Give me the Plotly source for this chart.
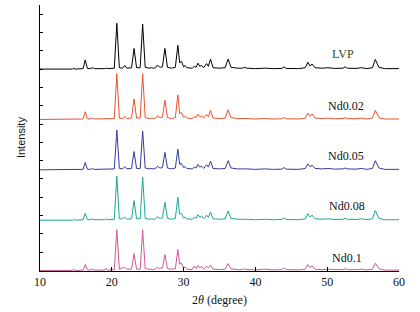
import plotly.graph_objects as go

# 2-theta sample points (degree)
two_theta = [
    10, 12, 14.5, 14.7, 14.9, 16.0, 16.3, 16.6, 17.0, 17.3,
    17.6, 19.0, 19.2, 19.4, 20.35, 20.7, 21.05, 21.5, 21.8, 22.1,
    22.75, 23.1, 23.45, 23.95, 24.3, 24.65, 25.2, 25.5, 25.8, 26.1,
    26.35, 26.6, 26.8, 27.05, 27.4, 27.75, 28.3, 28.85, 29.2, 29.45,
    29.7, 30.0, 30.2, 30.45, 31.2, 31.5, 31.75, 32.0, 32.25, 32.5,
    32.8, 33.2, 33.45, 33.75, 34.1, 35.0, 35.8, 36.2, 36.6, 37.5,
    38.2, 38.5, 38.8, 40.0, 41.3, 42.5, 43.7, 44.0, 44.3, 46.0,
    46.95, 47.3, 47.6, 47.9, 48.3, 49.3, 50.1, 51.0, 52.2, 52.5,
    52.8, 54.0, 54.8, 55.5, 56.3, 56.7, 57.2, 58.0, 59.0, 60.0,
]

lvp = [
    0, 0.5, 0, 2, 0, 1, 20, 1.5, 1, 3,
    1, 1, 2, 1, 2, 100, 3, 2, 8, 2,
    3, 45, 3, 3, 98, 4, 2, 3, 2, 3,
    9, 5, 4, 5, 45, 4, 2, 4, 52, 14,
    17, 5, 8, 3, 2, 6, 4, 13, 6, 8,
    3, 12, 6, 22, 3, 2, 3, 22, 4, 2,
    2, 4, 2, 1, 2, 1, 1.5, 5, 1.5, 1,
    3, 15, 7, 11, 3, 2, 3, 1.5, 2, 5,
    2, 1.5, 3, 1, 3, 21, 4, 1, 1, 1,
]
nd002 = [
    0, 0.5, 0, 1.5, 0, 1, 17, 1.5, 1, 2.5,
    1, 1, 2, 1, 2, 100, 3, 2, 7, 2,
    3, 45, 3, 3, 100, 4, 2, 3, 2, 3,
    8, 5, 4, 5, 42, 4, 2, 4, 54, 13,
    15, 5, 7, 3, 2, 6, 4, 12, 6, 8,
    3, 11, 6, 20, 3, 2, 3, 21, 4, 2,
    2, 3.5, 2, 1, 2, 1, 1.5, 5, 1.5, 1,
    3, 14, 7, 12, 3, 2, 3, 1.5, 2, 4,
    2, 1.5, 3, 1, 3, 20, 4, 1, 1, 1,
]
nd005 = [
    0, 0.5, 0, 1.5, 0, 1, 16, 1.5, 1, 2.5,
    1, 1, 2, 1, 2, 87, 3, 2, 7, 2,
    3, 40, 3, 3, 85, 4, 2, 3, 2, 3,
    8, 5, 4, 5, 38, 4, 2, 4, 45, 12,
    14, 5, 7, 3, 2, 6, 4, 12, 6, 8,
    3, 11, 6, 19, 3, 2, 3, 20, 4, 2,
    2, 3.5, 2, 1, 2, 1, 1.5, 5, 1.5, 1,
    3, 13, 7, 10, 3, 2, 3, 1.5, 2, 4,
    2, 1.5, 3, 1, 3, 20, 4, 1, 1, 1,
]
nd008 = [
    0, 0.5, 0, 2, 0, 1, 15, 1.5, 1, 2.5,
    1, 1, 3, 1, 2, 96, 3, 3, 7, 2,
    3, 43, 3, 3, 94, 4, 2, 3, 2, 3,
    8, 5, 4, 5, 39, 4, 2, 4, 50, 13,
    15, 5, 7, 3, 2, 7, 4, 12, 6, 9,
    3, 11, 6, 18, 3, 2, 3, 20, 4, 2,
    2, 3.5, 2, 1, 2, 1, 1.5, 5, 1.5, 1,
    3, 14, 7, 11, 3, 2, 3, 1.5, 2, 4,
    2, 1.5, 3, 1, 3, 21, 4, 1, 1, 1,
]
nd01 = [
    0, 0.5, 0, 3, 0, 1, 13, 1.5, 1, 3,
    1, 1, 5, 1, 2, 89, 3, 6, 7, 3,
    3, 37, 3, 3, 89, 4, 3, 4, 2, 4,
    7, 4, 6, 5, 35, 4, 3, 4, 46, 14,
    16, 5, 8, 3, 2, 10, 4, 11, 6, 9,
    3, 10, 6, 12, 3, 2, 3, 15, 4, 2,
    2, 4, 2, 1.5, 3, 1.5, 2, 6, 2, 1.5,
    3, 13, 7, 10, 3, 2, 3, 2, 2, 4,
    2, 2, 3, 1, 3, 16, 4, 1, 1, 1,
]

series_names = ["LVP", "Nd0.02", "Nd0.05", "Nd0.08", "Nd0.1"]
series_values = [lvp, nd002, nd005, nd008, nd01]
series_offsets = [440, 330, 220, 110, 0]
series_colors = ["#000000", "#EC5330", "#343C98", "#19A897", "#D2569F"]
label_x = [52.2, 52.6, 52.6, 52.7, 52.8]
label_dy = [34, 30, 30, 30, 28]
label_colors = ["#33472f", "#111111", "#111111", "#111111", "#111111"]
x_ticks = [10, 20, 30, 40, 50, 60]

SERIF = "Liberation Serif"
SANS = "Liberation Sans"

fig = go.Figure()
for name, vals, off, col in zip(series_names, series_values, series_offsets, series_colors):
    assert len(vals) == len(two_theta)
    fig.add_trace(go.Scatter(
        x=two_theta, y=[v + off for v in vals], mode="lines", name=name,
        line=dict(color=col, width=1), showlegend=False, hoverinfo="skip",
    ))

for name, lx, off, dy, lc in zip(series_names, label_x, series_offsets, label_dy, label_colors):
    fig.add_annotation(x=lx, y=off + dy, text=name, showarrow=False,
                       font=dict(family=SERIF, size=12, color=lc))

fig.add_annotation(xref="paper", yref="paper", x=-0.075, y=0.5, text="Intensity",
                   textangle=-90, showarrow=False,
                   font=dict(family=SANS, size=11, color="#111111"))
fig.add_annotation(xref="paper", yref="paper", x=0.5, y=-0.11,
                   text="2<i>θ</i> (degree)", showarrow=False, yanchor="middle",
                   font=dict(family=SERIF, size=12, color="#111111"))

fig.update_layout(
    width=420, height=312,
    margin=dict(l=40, r=21, t=5, b=41),
    paper_bgcolor="white", plot_bgcolor="white",
    font=dict(family=SERIF),
)
fig.update_xaxes(
    range=[10, 60], tickvals=x_ticks, ticks="inside", ticklen=4, tickwidth=1,
    tickcolor="black", showline=True, linecolor="black", linewidth=1,
    showgrid=False, zeroline=False, mirror=False,
    tickfont=dict(family=SERIF, size=12, color="#111111"),
)
fig.update_yaxes(
    range=[-1, 580], dtick=40, tick0=0, ticks="inside", ticklen=3, tickwidth=1,
    tickcolor="black", showticklabels=False, showline=True, linecolor="black",
    linewidth=1, showgrid=False, zeroline=False, mirror=False,
)

fig.write_html("out.html", config={"displayModeBar": False},
               post_script="document.body.style.margin='0px';")
